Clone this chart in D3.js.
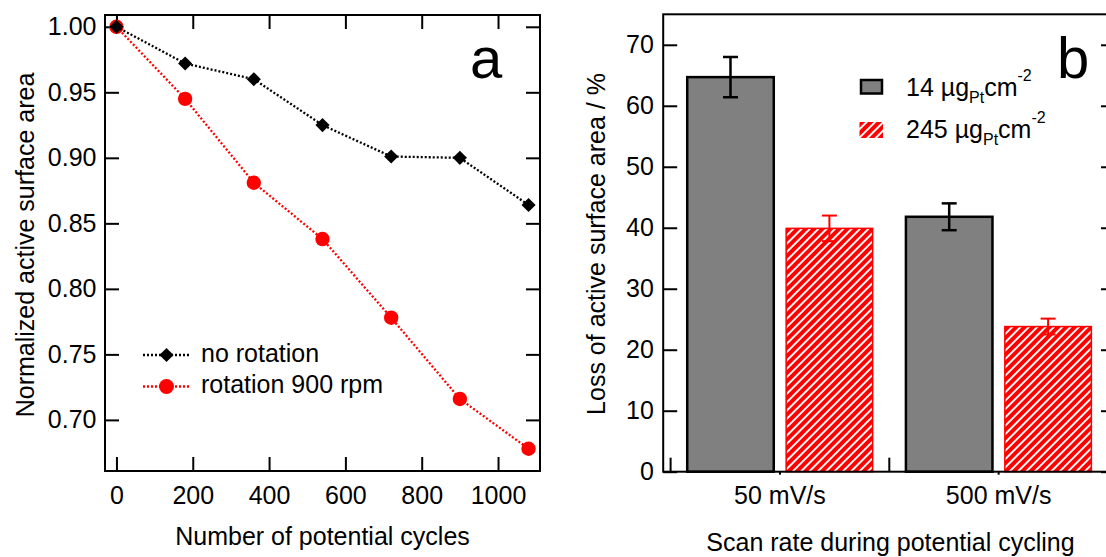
<!DOCTYPE html>
<html><head><meta charset="utf-8">
<script src="https://cdn.jsdelivr.net/npm/d3@7"></script>
<style>body{margin:0;background:#fff} svg{display:block} text{font-family:"Liberation Sans",Arial,sans-serif;fill:#000}</style>
</head><body><svg id="c" width="1106" height="557"></svg>
<script>
// ---------- data ----------
const cycles = [0, 180, 360, 540, 720, 900, 1080];
const noRotation = [1.000, 0.972, 0.960, 0.925, 0.901, 0.900, 0.864];
const rotation900 = [1.000, 0.945, 0.881, 0.838, 0.778, 0.716, 0.678];
const xTicksA = [0, 200, 400, 600, 800, 1000];
const yTicksA = [0.70, 0.75, 0.80, 0.85, 0.90, 0.95, 1.00];
const seriesNamesA = ["no rotation", "rotation 900 rpm"];

const scanRates = ["50 mV/s", "500 mV/s"];
const loadings = ["14", "245"];
const loss14 = [64.7, 41.8];
const err14 = [3.3, 2.2];
const loss245 = [39.9, 23.8];
const err245 = [2.1, 1.3];
const yTicksB = [0, 10, 20, 30, 40, 50, 60, 70];

// ---------- setup ----------
const svg = d3.select("#c");
const FS = 25;
const RED = "#ff0000", GRAY = "#808080";

const defs = svg.append("defs");
const pat = defs.append("pattern").attr("id", "hatch").attr("patternUnits", "userSpaceOnUse")
  .attr("width", 5.9).attr("height", 5.9).attr("patternTransform", "rotate(45)");
pat.append("rect").attr("width", 5.9).attr("height", 5.9).attr("fill", RED);
pat.append("line").attr("x1", 2.95).attr("y1", 0).attr("x2", 2.95).attr("y2", 5.9)
  .attr("stroke", "#fff").attr("stroke-width", 1.9);

function styleAxis(g, showText) {
  g.select(".domain").remove();
  g.selectAll(".tick line").attr("stroke", "#000").attr("stroke-width", 2);
  g.selectAll("text").attr("font-size", FS).attr("font-family", "Liberation Sans, Arial, sans-serif").attr("fill", "#000");
  if (!showText) g.selectAll("text").remove();
}

// ---------- panel a ----------
const A = {l: 105, r: 540, t: 15, b: 471};
const xA = d3.scaleLinear().domain([-30, 1110]).range([A.l, A.r]);
const yA = d3.scaleLinear().domain([0.661, 1.009]).range([A.b, A.t]);

svg.append("g").attr("transform", `translate(${A.l},0)`)
  .call(d3.axisLeft(yA).tickValues(yTicksA).tickFormat(d3.format(".2f")).tickSizeInner(-14).tickSizeOuter(0).tickPadding(8.5))
  .call(g => styleAxis(g, true));
svg.append("g").attr("transform", `translate(${A.r},0)`)
  .call(d3.axisRight(yA).tickValues(yTicksA).tickSizeInner(-14).tickSizeOuter(0))
  .call(g => styleAxis(g, false));
svg.append("g").attr("transform", `translate(0,${A.b})`)
  .call(d3.axisBottom(xA).tickValues(xTicksA).tickFormat(d3.format("d")).tickSizeInner(-14).tickSizeOuter(0).tickPadding(15))
  .call(g => styleAxis(g, true));
svg.append("g").attr("transform", `translate(0,${A.t})`)
  .call(d3.axisTop(xA).tickValues(xTicksA).tickSizeInner(-14).tickSizeOuter(0))
  .call(g => styleAxis(g, false));
svg.append("rect").attr("x", A.l).attr("y", A.t).attr("width", A.r - A.l).attr("height", A.b - A.t)
  .attr("fill", "none").attr("stroke", "#000").attr("stroke-width", 2);

const lineA = d3.line().x(d => xA(d[0])).y(d => yA(d[1]));
const dataRot = cycles.map((c, i) => [c, rotation900[i]]);
const dataNo = cycles.map((c, i) => [c, noRotation[i]]);
const diamond = d3.symbol(d3.symbolSquare, 100);

svg.append("path").datum(dataRot).attr("d", lineA).attr("fill", "none").attr("stroke", RED)
  .attr("stroke-width", 2.3).attr("stroke-dasharray", "2,2");
svg.append("g").selectAll("circle").data(dataRot).join("circle")
  .attr("cx", d => xA(d[0])).attr("cy", d => yA(d[1])).attr("r", 7.2).attr("fill", RED);
svg.append("path").datum(dataNo).attr("d", lineA).attr("fill", "none").attr("stroke", "#000")
  .attr("stroke-width", 2.3).attr("stroke-dasharray", "2,2");
svg.append("g").selectAll("path").data(dataNo).join("path")
  .attr("d", diamond).attr("fill", "#000")
  .attr("transform", d => `translate(${xA(d[0])},${yA(d[1])}) rotate(45)`);

// legend a
const legA = svg.append("g");
[[355, "#000", seriesNamesA[0], "d", 361.8], [386.5, RED, seriesNamesA[1], "c", 393.3]].forEach(([y, col, name, m, bl]) => {
  legA.append("line").attr("x1", 143).attr("x2", 190).attr("y1", y).attr("y2", y)
    .attr("stroke", col).attr("stroke-width", 2.3).attr("stroke-dasharray", "2,2");
  if (m === "d") legA.append("path").attr("d", diamond).attr("fill", col).attr("transform", `translate(166.5,${y}) rotate(45)`);
  else legA.append("circle").attr("cx", 166.5).attr("cy", y).attr("r", 7.5).attr("fill", col);
  legA.append("text").attr("x", 201).attr("y", bl).attr("font-size", FS).text(name);
});

svg.append("text").attr("x", 470).attr("y", 78).attr("font-size", 58).text("a");
svg.append("text").attr("x", (A.l + A.r) / 2).attr("y", 545).attr("text-anchor", "middle")
  .attr("font-size", FS).text("Number of potential cycles");
svg.append("text").attr("transform", `translate(33.5,245) rotate(-90)`).attr("text-anchor", "middle")
  .attr("font-size", FS).text("Normalized active surface area");

// ---------- panel b ----------
const B = {l: 663.2, r: 1115, t: 14.3, b: 471.7};
const yB = d3.scaleLinear().domain([0, 75]).range([B.b, B.t]);
const x0 = d3.scaleBand().domain(scanRates).range([670.6, 1108]).padding(0);
const x1 = d3.scaleBand().domain(loadings).range([0, x0.bandwidth()]).paddingInner(0.125).paddingOuter(0.168);

svg.append("g").attr("transform", `translate(${B.l},0)`)
  .call(d3.axisLeft(yB).tickValues(yTicksB).tickFormat(d3.format("d")).tickSizeInner(-14).tickSizeOuter(0).tickPadding(9.4))
  .call(g => styleAxis(g, true));
svg.append("g").attr("transform", `translate(${B.r},0)`)
  .call(d3.axisRight(yB).tickValues(yTicksB).tickSizeInner(-14).tickSizeOuter(0))
  .call(g => styleAxis(g, false));
svg.append("g").attr("transform", `translate(0,${B.b})`)
  .call(d3.axisBottom(x0).tickSizeInner(3).tickSizeOuter(0).tickPadding(11.2))
  .call(g => styleAxis(g, true));
// category boundary ticks
const bounds = scanRates.map(c => x0(c)).concat([x0.range()[1]]);
svg.append("g").selectAll("line").data(bounds).join("line")
  .attr("x1", d => d).attr("x2", d => d).attr("y1", B.b).attr("y2", B.b - 14)
  .attr("stroke", "#000").attr("stroke-width", 2);

const barData = [];
scanRates.forEach((c, i) => {
  barData.push({c, k: loadings[0], v: loss14[i], e: err14[i]});
  barData.push({c, k: loadings[1], v: loss245[i], e: err245[i]});
});
const gBars = svg.append("g");
gBars.selectAll("rect").data(barData).join("rect")
  .attr("x", d => x0(d.c) + x1(d.k)).attr("width", x1.bandwidth())
  .attr("y", d => yB(d.v)).attr("height", d => yB(0) - yB(d.v))
  .attr("fill", d => d.k === loadings[0] ? GRAY : "url(#hatch)")
  .attr("stroke", d => d.k === loadings[0] ? "#000" : RED)
  .attr("stroke-width", d => d.k === loadings[0] ? 2.5 : 1.5);

const gErr = svg.append("g");
barData.forEach(d => {
  const cx = x0(d.c) + x1(d.k) + x1.bandwidth() / 2;
  const col = d.k === loadings[0] ? "#000" : RED;
  const sw = d.k === loadings[0] ? 2.5 : 2;
  const hw = 7.5;
  gErr.append("line").attr("x1", cx).attr("x2", cx).attr("y1", yB(d.v + d.e)).attr("y2", yB(d.v - d.e)).attr("stroke", col).attr("stroke-width", sw);
  gErr.append("line").attr("x1", cx - hw).attr("x2", cx + hw).attr("y1", yB(d.v + d.e)).attr("y2", yB(d.v + d.e)).attr("stroke", col).attr("stroke-width", sw);
  gErr.append("line").attr("x1", cx - hw).attr("x2", cx + hw).attr("y1", yB(d.v - d.e)).attr("y2", yB(d.v - d.e)).attr("stroke", col).attr("stroke-width", sw);
});

svg.append("rect").attr("x", B.l).attr("y", B.t).attr("width", B.r - B.l).attr("height", B.b - B.t)
  .attr("fill", "none").attr("stroke", "#000").attr("stroke-width", 2);

// legend b
const legB = svg.append("g");
legB.append("rect").attr("x", 861).attr("y", 80).attr("width", 21).attr("height", 13.5)
  .attr("fill", GRAY).attr("stroke", "#000").attr("stroke-width", 2.5);
legB.append("rect").attr("x", 859.5).attr("y", 122).attr("width", 23.5).attr("height", 16)
  .attr("fill", "url(#hatch)");
[[95.5, loadings[0]], [138, loadings[1]]].forEach(([bl, k]) => {
  const t = legB.append("text").attr("x", 906).attr("y", bl).attr("font-size", FS);
  t.append("tspan").text(k + " µg");
  t.append("tspan").attr("font-size", 16).attr("dy", 7).text("Pt");
  t.append("tspan").attr("font-size", FS).attr("dy", -7).text("cm");
  t.append("tspan").attr("font-size", 16).attr("dy", -15).text("-2");
});

svg.append("text").attr("x", 1057).attr("y", 78).attr("font-size", 58).text("b");
svg.append("text").attr("x", 890.5).attr("y", 550.5).attr("text-anchor", "middle")
  .attr("font-size", FS).text("Scan rate during potential cycling");
svg.append("text").attr("transform", `translate(605,244) rotate(-90)`).attr("text-anchor", "middle")
  .attr("font-size", FS).text("Loss of active surface area / %");
</script></body></html>
